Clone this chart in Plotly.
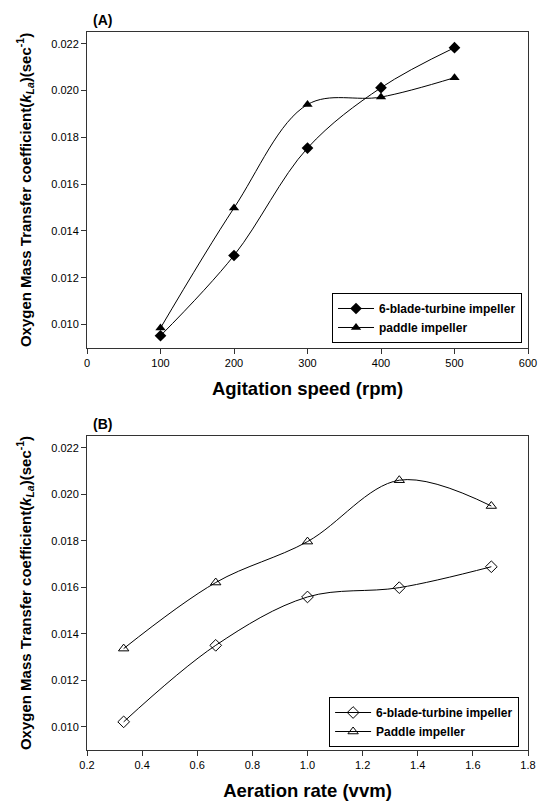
import plotly.graph_objects as go
from plotly.subplots import make_subplots

# Panel A data
speed = [100, 200, 300, 400, 500]
a_turbine = [0.00952, 0.01295, 0.01754, 0.02012, 0.02183]
a_paddle = [0.00985, 0.01498, 0.01940, 0.01972, 0.02055]

# Panel B data
aeration = [0.333, 0.667, 1.0, 1.333, 1.667]
b_turbine = [0.01021, 0.01350, 0.01558, 0.01598, 0.01688]
b_paddle = [0.01336, 0.01620, 0.01796, 0.02060, 0.01949]

yticks = [0.010, 0.012, 0.014, 0.016, 0.018, 0.020, 0.022]
xticks_a = [0, 100, 200, 300, 400, 500, 600]
xticks_b = [0.2, 0.4, 0.6, 0.8, 1.0, 1.2, 1.4, 1.6, 1.8]

FONT = "Liberation Sans, Arial, sans-serif"
LINE = dict(color="black", width=1, shape="spline", smoothing=1.0)

fig = make_subplots(rows=2, cols=1, vertical_spacing=0.0, shared_xaxes=False)

fig.add_trace(go.Scatter(x=speed, y=a_turbine, mode="lines+markers", name="6-blade-turbine impeller",
                         line=LINE, marker=dict(symbol="diamond", size=9, color="black"),
                         legend="legend"), row=1, col=1)
fig.add_trace(go.Scatter(x=speed, y=a_paddle, mode="lines+markers", name="paddle impeller",
                         line=LINE, marker=dict(symbol="triangle-up", size=9, color="black"),
                         legend="legend"), row=1, col=1)
fig.add_trace(go.Scatter(x=aeration, y=b_turbine, mode="lines+markers", name="6-blade-turbine impeller",
                         line=LINE, marker=dict(symbol="diamond-open", size=9, color="black", line=dict(width=1)),
                         legend="legend2"), row=2, col=1)
fig.add_trace(go.Scatter(x=aeration, y=b_paddle, mode="lines+markers", name="Paddle impeller",
                         line=LINE, marker=dict(symbol="triangle-up-open", size=9, color="black", line=dict(width=1)),
                         legend="legend2"), row=2, col=1)

axis_common = dict(showline=True, linecolor="#333333", linewidth=1, mirror=True,
                   ticks="outside", ticklen=5, tickcolor="#333333", showgrid=False, zeroline=False,
                   tickfont=dict(family=FONT, size=11, color="black"))

ytitle = "Oxygen Mass Transfer coefficient(<i>k<sub>La</sub></i>)(sec<sup>-1</sup>)"

fig.update_yaxes(**axis_common, range=[0.009, 0.0225], tickvals=yticks, tickformat=".3f",
                 title=dict(text="<b>" + ytitle + "</b>", font=dict(family=FONT, size=15, color="black"), standoff=16))
fig.update_xaxes(**axis_common)
fig.update_xaxes(range=[0, 600], tickvals=xticks_a,
                 title=dict(text="<b>Agitation speed (rpm)</b>", font=dict(family=FONT, size=18.5, color="black"), standoff=13),
                 row=1, col=1)
fig.update_xaxes(range=[0.2, 1.8], tickvals=xticks_b, tickformat=".1f",
                 title=dict(text="<b>Aeration rate (vvm)</b>", font=dict(family=FONT, size=18.5, color="black"), standoff=13),
                 row=2, col=1)

legend_font = dict(family=FONT, size=12, color="black", weight="bold")

fig.update_layout(
    width=548, height=811,
    margin=dict(l=87, r=11, t=32, b=61),
    plot_bgcolor="white", paper_bgcolor="white",
    font=dict(family=FONT, color="black"),
    yaxis=dict(domain=[0.56, 1.0]),
    yaxis2=dict(domain=[0.0, 0.4373]),
    legend=dict(x=0.5556, y=0.6365, xanchor="left", yanchor="top",
                bordercolor="black", borderwidth=1, bgcolor="white",
                font=legend_font, itemwidth=36, tracegroupgap=0),
    legend2=dict(x=0.549, y=0.0738, xanchor="left", yanchor="top",
                 bordercolor="black", borderwidth=1, bgcolor="white",
                 font=legend_font, itemwidth=36, tracegroupgap=0),
    annotations=[
        dict(text="<b>(A)</b>", x=0.01, y=1.0, xref="paper", yref="paper", xanchor="left", yanchor="bottom",
             showarrow=False, font=dict(family=FONT, size=14, color="black"), yshift=2),
        dict(text="<b>(B)</b>", x=0.01, y=0.4373, xref="paper", yref="paper", xanchor="left", yanchor="bottom",
             showarrow=False, font=dict(family=FONT, size=14, color="black"), yshift=2),
    ],
)

fig.write_html("out.html")
